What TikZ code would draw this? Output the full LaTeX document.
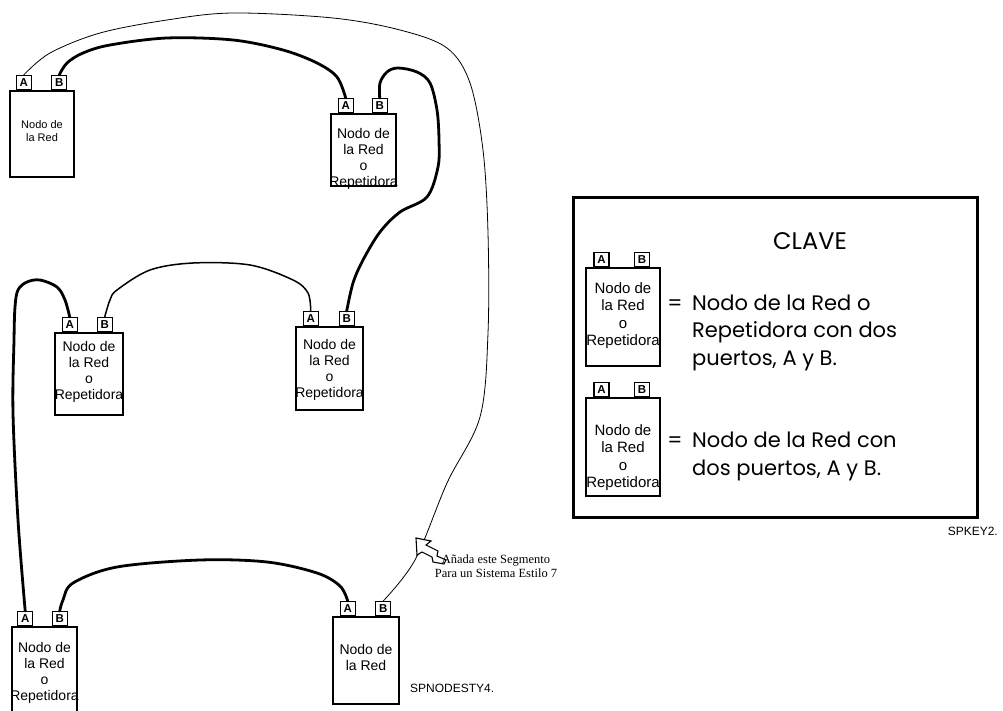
\documentclass[tikz,border=0pt]{standalone}
\usepackage{fontspec}
\setmainfont{Liberation Sans}
\newfontfamily\keyfont{Poppins}
\newfontfamily\notefont{Liberation Serif}
\tikzset{
  box/.style={draw, line width=1.6pt, inner sep=0pt, fill=white},
  port/.style={draw, line width=1.2pt, inner sep=0pt, minimum width=15pt, minimum height=14pt,
    fill=white, anchor=south, font=\fontsize{11.5}{11.5}\selectfont\bfseries},
  ntext/.style={align=center, inner sep=0pt, font=\fontsize{14}{16}\selectfont},
  ntextsmall/.style={align=center, inner sep=0pt, font=\fontsize{11}{13}\selectfont},
  ktext/.style={align=center, inner sep=0pt, font=\fontsize{15}{17.5}\selectfont},
  heavywire/.style={line width=2.8pt, line cap=round, line join=round},
  midwire/.style={line width=1.5pt, line cap=round, line join=round},
  thinwire/.style={line width=0.8pt, line cap=round, line join=round},
  keydesc/.style={align=left, inner sep=0pt, anchor=base west, font=\keyfont\fontsize{21}{27.5}\selectfont},
  eqsign/.style={inner sep=0pt, anchor=base, font=\keyfont\fontsize{21}{21}\selectfont},
  tag/.style={inner sep=0pt, font=\fontsize{12}{12}\selectfont}
}
\begin{document}
\begin{tikzpicture}[x=1pt,y=-1pt]
\useasboundingbox (0,0) rectangle (1003,711);

% ---------- network nodes ----------
\node[box, minimum width=64pt, minimum height=86pt] (n1) at (42,134) {};
\node[port] (n1A) at ([xshift=14.5pt]n1.north west) {A};
\node[port] (n1B) at ([xshift=50pt]n1.north west) {B};
\node[ntextsmall] (t1) at (42,131) {Nodo de\\la Red};

\node[box, minimum width=65pt, minimum height=72pt] (n2) at (363.5,150) {};
\node[port] (n2A) at ([xshift=15.5pt]n2.north west) {A};
\node[port] (n2B) at ([xshift=49.5pt]n2.north west) {B};
\node[ntext] (t2) at (363.5,158.5) {Nodo de\\la Red\\o\\Repetidora};

\node[box, minimum width=68pt, minimum height=82pt] (n3) at (89,374) {};
\node[port] (n3A) at ([xshift=15.5pt]n3.north west) {A};
\node[port] (n3B) at ([xshift=50.5pt]n3.north west) {B};
\node[ntext] (t3) at (89,372) {Nodo de\\la Red\\o\\Repetidora};

\node[box, minimum width=67pt, minimum height=83pt] (n4) at (329.5,368.5) {};
\node[port] (n4A) at ([xshift=15.5pt]n4.north west) {A};
\node[port] (n4B) at ([xshift=51.5pt]n4.north west) {B};
\node[ntext] (t4) at (329.5,369.5) {Nodo de\\la Red\\o\\Repetidora};

\node[box, minimum width=65pt, minimum height=93pt] (n5) at (44.5,673.5) {};
\node[port] (n5A) at ([xshift=14pt]n5.north west) {A};
\node[port] (n5B) at ([xshift=48.5pt]n5.north west) {B};
\node[ntext] (t5) at (44.5,672.5) {Nodo de\\la Red\\o\\Repetidora};

\node[box, minimum width=66pt, minimum height=87pt] (n6) at (366,660.5) {};
\node[port] (n6A) at ([xshift=15.5pt]n6.north west) {A};
\node[port] (n6B) at ([xshift=51pt]n6.north west) {B};
\node[ntext] (t6) at (366,657.5) {Nodo de\\la Red};

% ---------- connectors ----------
\draw[thinwire] plot[smooth, tension=0.55] coordinates {(n1A.north) (50,53) (100,33) (167,20) (233,13)
  (333,18) (400,30) (447,48) (470,83) (483,150) (488,233) (488,333) (480,417) (447,483) (415,560) (n6B.north)};
\draw[heavywire] plot[smooth, tension=0.55] coordinates {(n1B.north) (67,63) (83,53) (110,45) (167,38)
  (233,40) (283,50) (317,63) (337,77) (n2A.north)};
\draw[heavywire] plot[smooth, tension=0.55] coordinates {(n2B.north) (380,83) (387,72) (398,68) (417,72)
  (430,83) (437,110) (439,140) (438,167) (427,197) (400,212) (380,232) (363,260) (353,283) (n4B.north)};
\draw[midwire] plot[smooth, tension=0.55] coordinates {(n3B.north) (110,300) (117,290) (150,270) (193,263)
  (250,265) (293,280) (308,293) (n4A.north)};
\draw[heavywire] plot[smooth, tension=0.55] coordinates {(n3A.north) (65,300) (57,287) (40,280) (27,282)
  (18,290) (15,307) (14,340) (13,413) (18,520) (n5A.north)};
\draw[heavywire] plot[smooth, tension=0.55] coordinates {(n5B.north) (63,600) (73,583) (117,567) (200,560)
  (267,562) (317,573) (340,586) (n6A.north)};

% ---------- annotation ----------
\draw[line width=1.1pt, line join=miter, fill=white]
  (416,538) -- (431,541) -- (426,545) -- (438,551) -- (437,556) -- (446,560) -- (444,564)
  -- (433,562) -- (432,557) -- (422,552) -- (417,555) -- cycle;
\node[inner sep=0pt, align=center, font=\notefont\fontsize{12.5}{14}\selectfont] (note) at (496,566)
  {Añada este Segmento\\Para un Sistema Estilo 7};
\node[tag, anchor=base west] (tagnet) at (410,692) {SPNODESTY4.};

% ---------- key ----------
\node[draw, line width=3pt, minimum width=404pt, minimum height=319pt, inner sep=0pt] (kframe) at (775,357.5) {};
\node[inner sep=0pt, anchor=base, font=\keyfont\fontsize{24}{24}\selectfont] (clave) at (810,250) {CLAVE};

\node[box, minimum width=74pt, minimum height=98pt, line width=1.2pt] (k1) at (623,317) {};
\node[port] (k1A) at ([xshift=16pt]k1.north west) {A};
\node[port] (k1B) at ([xshift=56.5pt]k1.north west) {B};
\node[ktext] (tk1) at (623,315.5) {Nodo de\\la Red\\o\\Repetidora};
\node[eqsign] (eq1) at (675,310) {=};
\node[keydesc] (d1) at (692,365) {Nodo de la Red o\\Repetidora con dos\\puertos, A y B.};

\node[box, minimum width=74pt, minimum height=98pt, line width=1.2pt] (k2) at (623,447) {};
\node[port] (k2A) at ([xshift=16pt]k2.north west) {A};
\node[port] (k2B) at ([xshift=56.5pt]k2.north west) {B};
\node[ktext] (tk2) at (623,457.5) {Nodo de\\la Red\\o\\Repetidora};
\node[eqsign] (eq2) at (675,447) {=};
\node[keydesc] (d2) at (692,475) {Nodo de la Red con\\dos puertos, A y B.};

\node[tag, anchor=base east] (tagkey) at (998,535) {SPKEY2.};
\end{tikzpicture}
\end{document}
